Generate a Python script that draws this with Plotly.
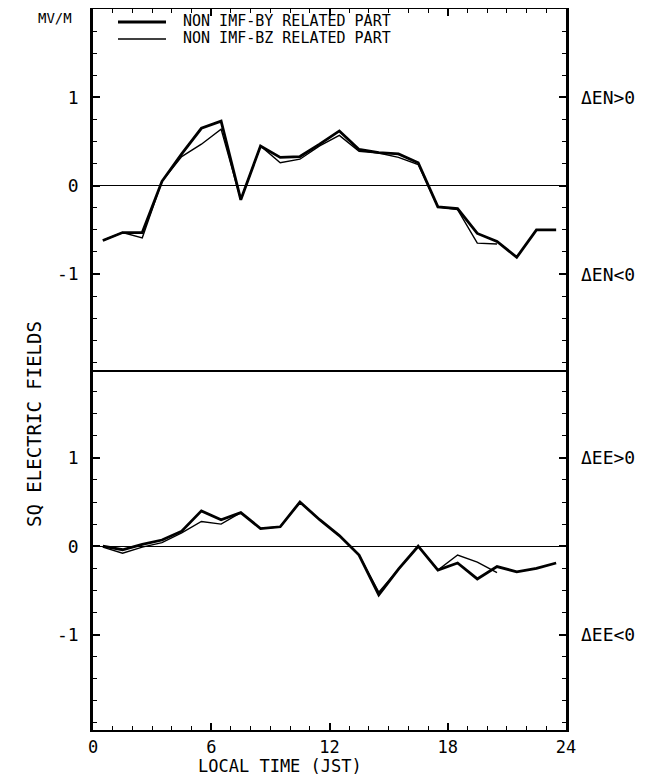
import plotly.graph_objects as go
from plotly.subplots import make_subplots

# ---- data (local time, hours) ----
hours = [h + 0.5 for h in range(24)]

# Top panel: delta EN (mV/m)
en_non_by = [-0.62, -0.53, -0.53, 0.05, 0.36, 0.65, 0.73, -0.16, 0.45, 0.32, 0.33, 0.47,
             0.62, 0.41, 0.375, 0.36, 0.26, -0.24, -0.26, -0.54, -0.63, -0.81, -0.50, -0.50]
en_non_bz = [-0.62, -0.53, -0.59, 0.05, 0.33, 0.47, 0.64, -0.16, 0.45, 0.26, 0.30, 0.45,
             0.57, 0.39, 0.37, 0.32, 0.24, -0.24, -0.27, -0.65, -0.66, None, None, None]

# Bottom panel: delta EE (mV/m)
ee_non_by = [0.0, -0.04, 0.02, 0.07, 0.17, 0.40, 0.30, 0.38, 0.20, 0.22, 0.50, 0.30,
             0.12, -0.10, -0.55, -0.26, 0.0, -0.27, -0.19, -0.37, -0.23, -0.29, -0.25, -0.19]
ee_non_bz = [-0.01, -0.08, -0.01, 0.04, 0.15, 0.28, 0.25, 0.38, 0.20, 0.22, 0.50, 0.30,
             0.12, -0.10, -0.52, -0.26, 0.0, -0.27, -0.10, -0.18, -0.30, None, None, None]

legend_names = ["NON IMF-BY RELATED PART", "NON IMF-BZ RELATED PART"]
x_ticks = [0, 6, 12, 18, 24]
y_ticks = [-1, 0, 1]

FONT = "DejaVu Sans Mono"
BLACK = "black"
THICK, THIN = 2.8, 1.4

fig = make_subplots(rows=2, cols=1, shared_xaxes=True, vertical_spacing=0)

fig.add_trace(go.Scatter(x=hours, y=en_non_by, mode="lines", name=legend_names[0],
                         line=dict(color=BLACK, width=THICK)), row=1, col=1)
fig.add_trace(go.Scatter(x=hours, y=en_non_bz, mode="lines", name=legend_names[1],
                         line=dict(color=BLACK, width=THIN)), row=1, col=1)
fig.add_trace(go.Scatter(x=hours, y=ee_non_by, mode="lines", name=legend_names[0],
                         line=dict(color=BLACK, width=THICK)), row=2, col=1)
fig.add_trace(go.Scatter(x=hours, y=ee_non_bz, mode="lines", name=legend_names[1],
                         line=dict(color=BLACK, width=THIN)), row=2, col=1)

yax = dict(range=[-2.08, 2.0], tickmode="array", tickvals=y_ticks,
           ticktext=[str(v) for v in y_ticks], ticks="inside", ticklen=7, tickwidth=1.5,
           tickcolor=BLACK, showline=True, linewidth=2.5, linecolor=BLACK, mirror="ticks",
           zeroline=True, zerolinewidth=1.3, zerolinecolor=BLACK, showgrid=False,
           minor=dict(dtick=0.25, ticks="inside", ticklen=4, tickwidth=1, tickcolor=BLACK),
           tickfont=dict(family=FONT, size=18, color=BLACK), ticklabelstandoff=8, fixedrange=True)
fig.update_yaxes(**yax, row=1, col=1)
fig.update_yaxes(**yax, row=2, col=1)

xax = dict(range=[0, 24], tickmode="array", tickvals=x_ticks, ticktext=[str(v) for v in x_ticks],
           ticks="inside", ticklen=7, tickwidth=1.5, tickcolor=BLACK, showline=True,
           linewidth=2.2, linecolor=BLACK, showgrid=False, zeroline=False,
           minor=dict(dtick=1, ticks="inside", ticklen=4, tickwidth=1, tickcolor=BLACK),
           tickfont=dict(family=FONT, size=17, color=BLACK))
fig.update_xaxes(**xax, side="top", mirror=True, showticklabels=False, row=1, col=1)
fig.update_xaxes(**xax, side="bottom", mirror=False, showticklabels=True, row=2, col=1)

# page geometry (the page body adds an 8 px margin around the figure)
OFF = 8
W, H = 644, 771
L, R = 93, 566          # plot area edges in window pixels
T, B = 9, 730
PW = R - L
PH = B - T


def px(xp):
    return (xp - L) / PW


def py(yp):
    return (B - yp) / PH


ann_font = dict(family=FONT, size=18, color=BLACK)
annotations = [
    dict(text="LOCAL TIME (JST)", x=px(280), y=py(766), xref="paper", yref="paper",
         showarrow=False, xanchor="center", yanchor="middle",
         font=dict(family=FONT, size=17, color=BLACK)),
    dict(text="SQ ELECTRIC FIELDS", x=px(34), y=py(424), xref="paper", yref="paper",
         showarrow=False, textangle=-90, xanchor="center", yanchor="middle",
         font=dict(family=FONT, size=19, color=BLACK)),
    dict(text="MV/M", x=px(55), y=py(18), xref="paper", yref="paper",
         showarrow=False, xanchor="center", yanchor="middle",
         font=dict(family=FONT, size=14, color=BLACK)),
]
side_labels = [("ΔEN>0", 1, "y"), ("ΔEN<0", -1, "y"), ("ΔEE>0", 1, "y2"), ("ΔEE<0", -1, "y2")]
for txt, yv, yr in side_labels:
    annotations.append(dict(text=txt, x=px(579), y=yv, xref="paper", yref=yr, showarrow=False,
                            xanchor="left", yanchor="middle", font=ann_font))

# legend drawn inside the top panel
shapes = []
legend_rows = [(legend_names[0], THICK, 22, 21.5), (legend_names[1], THIN, 39, 38.5)]
for name, w, yline, ytext in legend_rows:
    shapes.append(dict(type="line", xref="paper", yref="paper", x0=px(118), x1=px(166),
                       y0=py(yline), y1=py(yline), line=dict(color=BLACK, width=w)))
    annotations.append(dict(text=name, x=px(181), y=py(ytext), xref="paper", yref="paper",
                            showarrow=False, xanchor="left", yanchor="middle",
                            font=dict(family=FONT, size=15, color=BLACK)))

fig.update_layout(
    width=W, height=H,
    margin=dict(l=L - OFF, r=OFF + W - R, t=T - OFF, b=OFF + H - B),
    paper_bgcolor="white", plot_bgcolor="white",
    showlegend=False,
    annotations=annotations,
    shapes=shapes,
)

fig.write_html("out.html")
